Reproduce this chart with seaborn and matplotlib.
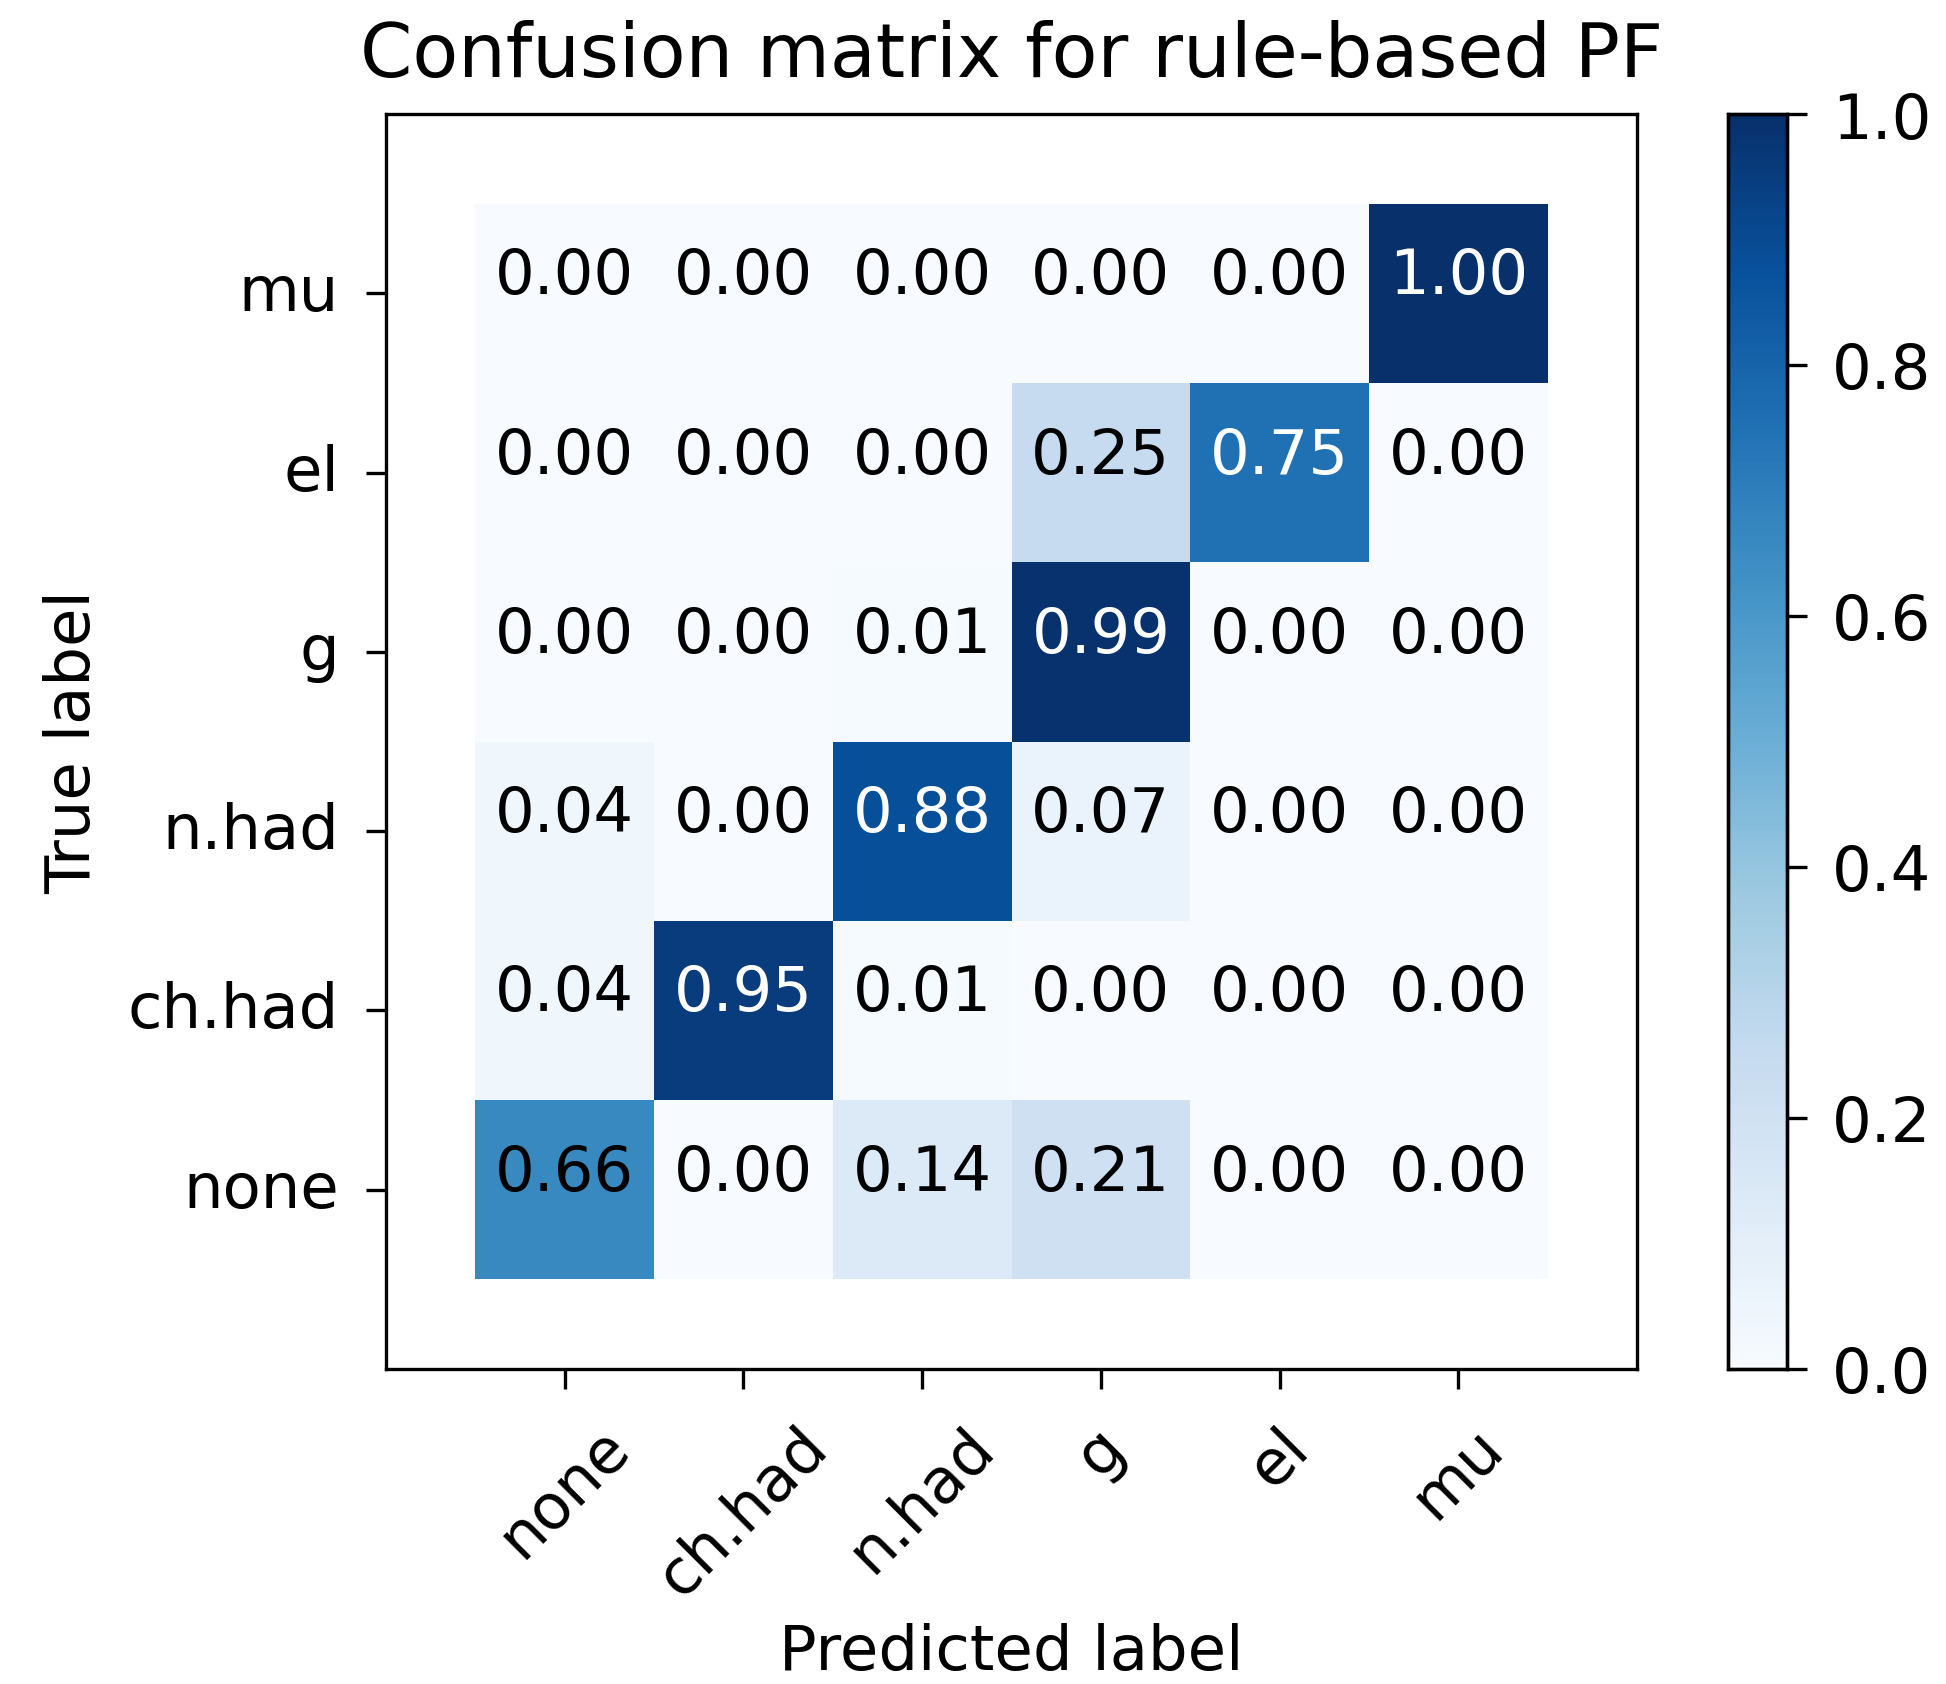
import numpy as np
import pandas as pd
import matplotlib
matplotlib.use("Agg")
import matplotlib.pyplot as plt
import seaborn as sns

pred_labels = ["none", "ch.had", "n.had", "g", "el", "mu"]
true_labels_top_to_bottom = ["mu", "el", "g", "n.had", "ch.had", "none"]
row_mu = [0.00, 0.00, 0.00, 0.00, 0.00, 1.00]
row_el = [0.00, 0.00, 0.00, 0.25, 0.75, 0.00]
row_g = [0.00, 0.00, 0.01, 0.99, 0.00, 0.00]
row_nhad = [0.04, 0.00, 0.88, 0.07, 0.00, 0.00]
row_chhad = [0.04, 0.95, 0.01, 0.003, 0.00, 0.00]
row_none = [0.66, 0.00, 0.14, 0.21, 0.00, 0.00]

df = pd.DataFrame([row_mu, row_el, row_g, row_nhad, row_chhad, row_none],
                  index=true_labels_top_to_bottom, columns=pred_labels)

plt.rcParams['font.family'] = ['DejaVu Sans']
fs = 15
fig = plt.figure(figsize=(1946/300, 1685/300), dpi=300)
ax = fig.add_axes([386/1946, 1-1370/1685, (1637-386)/1946, (1370-115)/1685])
cax = fig.add_axes([1728/1946, 1-1370/1685, (1787-1728)/1946, (1370-115)/1685])

sns.heatmap(df, ax=ax, cbar_ax=cax, cmap="Blues", vmin=0, vmax=1, annot=False,
            linewidths=0)

# annotations
for i, r in enumerate(true_labels_top_to_bottom):
    for j, c in enumerate(pred_labels):
        v = df.loc[r, c]
        ax.text(j + 0.5, i + 0.5, f"{v:.2f}", ha="center", va="baseline",
                fontsize=fs, color="white" if v > 0.7 else "black")

ax.set_xlim(-0.5, 6.5)
ax.set_ylim(6.5, -0.5)
for s in ax.spines.values():
    s.set_visible(True)
    s.set_linewidth(0.8)
ax.set_xticks(np.arange(6) + 0.5)
ax.set_xticklabels(pred_labels, rotation=45, ha="center", fontsize=fs)
ax.set_yticks(np.arange(6) + 0.5)
ax.set_yticklabels(true_labels_top_to_bottom, rotation=0, fontsize=fs)
ax.tick_params(length=4.8, width=0.8, pad=6.5)
ax.set_xlabel("Predicted label", fontsize=fs, labelpad=3.5)
ax.set_ylabel("True label", fontsize=fs, labelpad=6)
ax.set_title("Confusion matrix for rule-based PF", fontsize=18, pad=9)

cax.tick_params(labelsize=fs, length=4.8, width=0.8, pad=6)
cax.set_yticks([0, 0.2, 0.4, 0.6, 0.8, 1.0])
cax.set_yticklabels(["0.0", "0.2", "0.4", "0.6", "0.8", "1.0"])
for s in cax.spines.values():
    s.set_visible(True)
cb = ax.collections[0].colorbar
cb.outline.set_visible(True)
cb.outline.set_linewidth(0.8)

fig.savefig("out.png", dpi=300)
